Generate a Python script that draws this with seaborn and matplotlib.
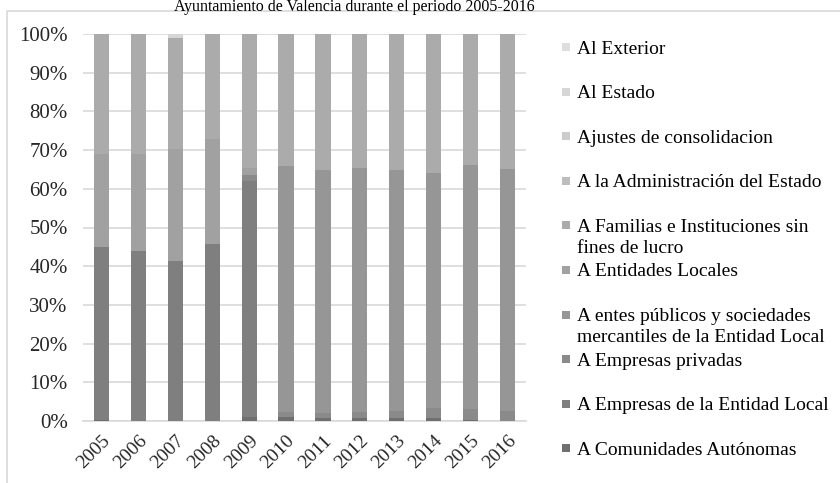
import pandas as pd
import matplotlib
matplotlib.use('Agg')
import matplotlib.pyplot as plt
import seaborn as sns
from matplotlib.patches import Rectangle
from matplotlib.ticker import FuncFormatter, MultipleLocator

# Datos (porcentaje de cada tipo de transferencia por año)
anios = [2005, 2006, 2007, 2008, 2009, 2010, 2011, 2012, 2013, 2014, 2015, 2016]

# Orden de la leyenda (de arriba a abajo)
series = [
    'Al Exterior',
    'Al Estado',
    'Ajustes de consolidacion',
    'A la Administración del Estado',
    'A Familias e Instituciones sin fines de lucro',
    'A Entidades Locales',
    'A entes públicos y sociedades mercantiles de la Entidad Local',
    'A Empresas privadas',
    'A Empresas de la Entidad Local',
    'A Comunidades Autónomas',
]
etiquetas_leyenda = [
    'Al Exterior',
    'Al Estado',
    'Ajustes de consolidacion',
    'A la Administración del Estado',
    'A Familias e Instituciones sin\nfines de lucro',
    'A Entidades Locales',
    'A entes públicos y sociedades\nmercantiles de la Entidad Local',
    'A Empresas privadas',
    'A Empresas de la Entidad Local',
    'A Comunidades Autónomas',
]
colores = ['#dedede', '#d6d6d6', '#cccccc', '#bdbdbd', '#ababab',
           '#a1a1a1', '#969696', '#8a8a8a', '#7f7f7f', '#6f6f6f']

al_exterior = [0, 0, 0, 0, 0, 0, 0, 0, 0, 0, 0, 0]
al_estado = [0, 0, 1.1, 0, 0, 0, 0, 0, 0, 0, 0, 0]
ajustes = [0, 0, 0, 0, 0, 0, 0, 0, 0, 0, 0, 0]
adm_estado = [0, 0, 0, 0, 0, 0, 0, 0, 0, 0, 0, 0]
familias = [31.0, 30.9, 28.6, 27.2, 34.5, 34.1, 35.1, 34.5, 35.1, 35.9, 33.9, 34.8]
entidades_locales = [24.1, 25.2, 29.0, 27.0, 1.9, 0, 0, 0, 0, 0, 0, 0]
entes_publicos = [0, 0, 0, 0, 0, 63.7, 62.8, 63.3, 62.2, 60.7, 63.0, 62.6]
empresas_privadas = [0, 0, 0, 0, 1.5, 1.2, 1.2, 1.4, 1.9, 2.6, 2.8, 2.6]
empresas_entidad_local = [44.6, 43.9, 41.3, 45.8, 61.0, 0, 0, 0, 0, 0, 0, 0]
comunidades = [0.3, 0, 0, 0, 1.1, 1.0, 0.9, 0.8, 0.8, 0.8, 0.3, 0]

valores = [al_exterior, al_estado, ajustes, adm_estado, familias, entidades_locales,
           entes_publicos, empresas_privadas, empresas_entidad_local, comunidades]

filas = []
for serie, vals in zip(series, valores):
    for anio, v in zip(anios, vals):
        filas.append({'anio': anio, 'serie': serie, 'valor': v})
df = pd.DataFrame(filas)

W, H = 840, 483
fig = plt.figure(figsize=(W / 100, H / 100), dpi=100)
ax = fig.add_axes([83 / W, 1 - 421 / H, (526 - 83) / W, (421 - 34) / H])

sns.histplot(data=df, x='anio', hue='serie', weights='valor', multiple='stack',
             discrete=True, shrink=0.41, hue_order=series,
             palette=dict(zip(series, colores)), linewidth=0, alpha=1,
             legend=False, ax=ax, zorder=3)

fuente = 'Liberation Serif'
ax.set_xlim(2004.5, 2016.5)
ax.set_ylim(0, 100)
ax.yaxis.set_major_locator(MultipleLocator(10))
ax.yaxis.set_major_formatter(FuncFormatter(lambda v, p: f'{v:.0f}%'))
ax.set_xticks(anios)
ax.set_xticklabels([str(a) for a in anios], rotation=45, ha='right',
                   rotation_mode='anchor', fontfamily=fuente, fontsize=14, color='#262626')
for t in ax.get_yticklabels():
    t.set_fontfamily(fuente)
    t.set_fontsize(15)
    t.set_color('#262626')
ax.tick_params(axis='both', length=0)
ax.tick_params(axis='y', pad=11)
ax.tick_params(axis='x', pad=8)
ax.set_xlabel('')
ax.set_ylabel('')
ax.grid(axis='y', color='#d9d9d9', linewidth=1.2, zorder=0)
ax.set_axisbelow(True)
for lado in ['top', 'right', 'left']:
    ax.spines[lado].set_visible(False)
ax.spines['bottom'].set_color('#d9d9d9')
ax.spines['bottom'].set_linewidth(1.2)

# Leyenda a la derecha (la muestra se alinea con la primera línea del texto)
paso = 44.6
for i, (etq, col) in enumerate(zip(etiquetas_leyenda, colores)):
    yc = 47 + i * paso
    fig.patches.append(Rectangle((562 / W, 1 - (yc + 4) / H), 8 / W, 8 / H,
                                 transform=fig.transFigure, facecolor=col,
                                 edgecolor='none'))
    for k, linea in enumerate(etq.split('\n')):
        fig.text(577 / W, 1 - (yc + 6.5 + k * 21) / H, linea, fontfamily=fuente,
                 fontsize=14, va='baseline', ha='left', color='black')

# Marco del gráfico
fig.patches.append(Rectangle((7 / W, -0.02), 1.1, 1 - 11 / H + 0.02,
                             transform=fig.transFigure, facecolor='none',
                             edgecolor='#d9d9d9', linewidth=1.2))

# Titulo
fig.text(535 / W, 1 - 11 / H, 'Ayuntamiento de Valencia durante el periodo 2005-2016',
         fontfamily=fuente, fontsize=11.5, ha='right', va='baseline', color='black')

fig.savefig('out.png', dpi=100)
